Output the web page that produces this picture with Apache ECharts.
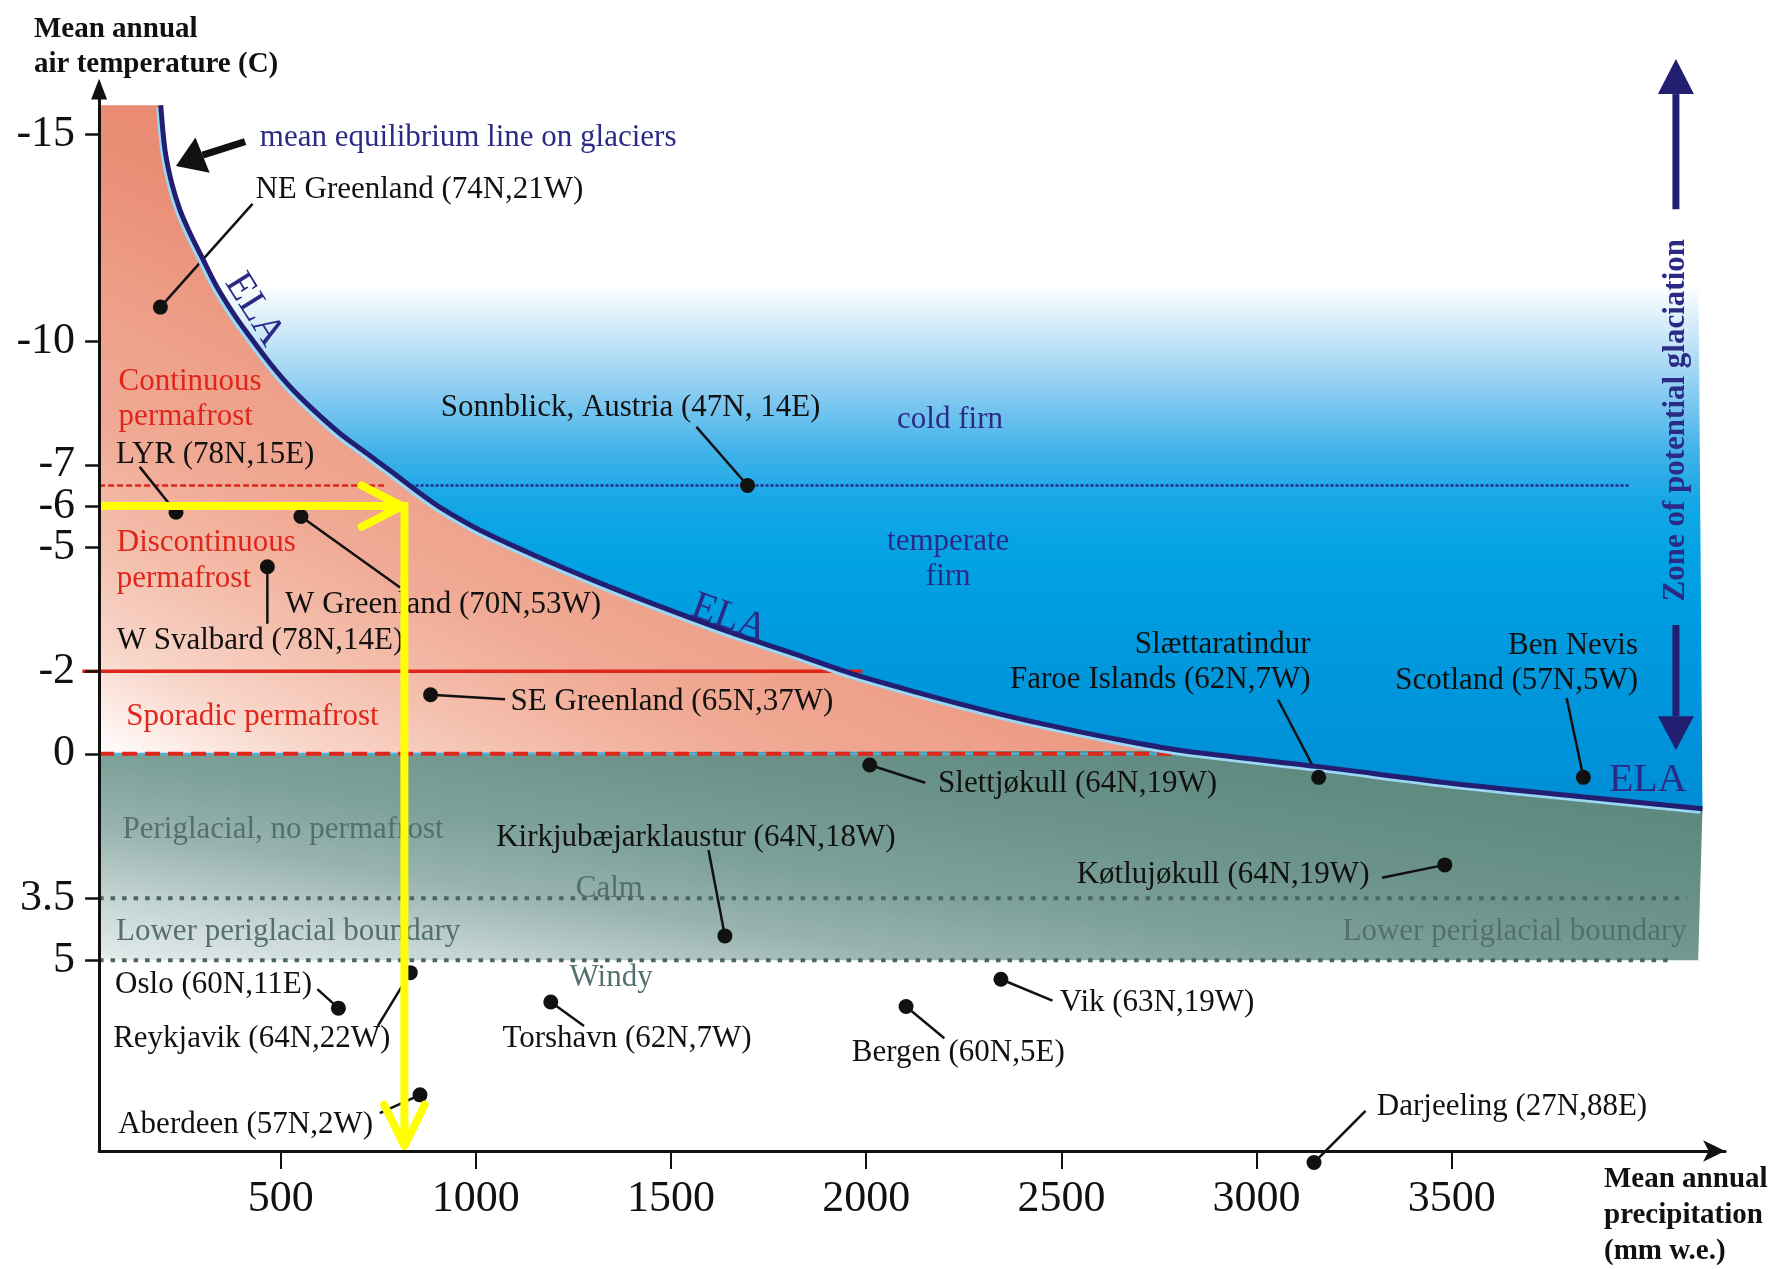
<!DOCTYPE html>
<html><head><meta charset="utf-8">
<script src="https://cdn.jsdelivr.net/npm/echarts@6/dist/echarts.min.js"></script>
<style>html,body{margin:0;padding:0;background:#fff}#c{width:1787px;height:1269px}</style>
</head><body><div id="c"></div>
<script>
// ---------------- data ----------------
const X_TICKS = [500, 1000, 1500, 2000, 2500, 3000, 3500];
const Y_TICKS = [-15, -10, -7, -6, -5, -2, 0, 3.5, 5];

// equilibrium line (ELA): precipitation (mm w.e.) and mean annual air temperature (C)
const ELA_PRECIP = [192.9, 203.9, 221.1, 242.3, 267.9, 302.0, 336.3, 378.8, 421.6, 472.8, 524.1, 583.8, 652.0, 720.5, 788.7, 857.1, 911.6, 1009.7, 1156.8, 1320.2, 1483.4, 1646.8, 1810.2, 1973.6, 2136.8, 2300.2, 2463.6, 2627.0, 2806.6, 3160, 3497, 3834, 4142];
const ELA_TEMP   = [-15.71, -14.62, -13.82, -13.17, -12.61, -11.96, -11.32, -10.67, -10.10, -9.46, -8.89, -8.33, -7.76, -7.28, -6.80, -6.31, -5.95, -5.42, -4.78, -4.13, -3.53, -2.96, -2.44, -1.91, -1.47, -1.06, -0.70, -0.38, -0.08, 0.31, 0.71, 1.04, 1.33];

// stations
const STATION_NAMES = ['NE Greenland (74N,21W)', 'LYR (78N,15E)', 'W Greenland (70N,53W)', 'W Svalbard (78N,14E)',
  'Sonnblick, Austria (47N, 14E)', 'SE Greenland (65N,37W)', 'Slettjøkull (64N,19W)', 'Slættaratindur\nFaroe Islands (62N,7W)',
  'Ben Nevis\nScotland (57N,5W)', 'Kirkjubæjarklaustur (64N,18W)', 'Køtlujøkull (64N,19W)', 'Oslo (60N,11E)',
  'Reykjavik (64N,22W)', 'Torshavn (62N,7W)', 'Bergen (60N,5E)', 'Vik (63N,19W)', 'Aberdeen (57N,2W)', 'Darjeeling (27N,88E)'];
const STATION_PRECIP = [192, 232, 552, 466, 1696, 884, 2009, 3159, 3837, 1638, 3482, 648, 832, 1192, 2102, 2345, 857, 3147];
const STATION_TEMP   = [-10.82, -5.85, -5.75, -4.53, -6.5, -1.43, 0.27, 0.57, 0.57, 4.41, 2.69, 6.16, 5.30, 6.01, 6.12, 5.46, 8.26, 9.9];

// zone boundaries (C)
const T_CONTINUOUS = -6.5, T_DISCONTINUOUS = -2, T_SPORADIC = 0, T_CALM = 3.5, T_WINDY = 5;
// example read-off (yellow arrow)
const EXAMPLE_TEMP = -6, EXAMPLE_PRECIP = 817;

// ---------------- layout (annotation anchors, in axis units) ----------------
const X_MIN = 35, X_MAX = 4200, Y_MIN = -16, Y_MAX = 9.62;
const ZONE_RIGHT = 4131, BLUE_TOP = -12.61;
const LEADER_END = [[428,-13.32],[139,-6.95],[806,-4.03],[466,-3.15],[1565,-7.92],[1075,-1.32],[2151,0.70],[3055,-1.31],
  [3794,-1.35],[1596,2.33],[3321,3.0],[594,5.70],[749,6.59],[1277,6.59],[2200,6.89],[2477,5.98],[754,8.70],[3279,8.65]];
const LABEL_ANCHOR = [[435.5,-13.66,'left'],[78.4,-7.25,'left'],[511.5,-3.61,'left'],[80,-2.73,'left'],[910,-8.37,'left'],
  [1089,-1.26,'left'],[2184,0.73,'left'],[3138,-2.21,'right'],[3977,-2.19,'right'],[1052,2.04,'left'],[3289,2.93,'right'],
  [76,5.60,'left'],[71,6.91,'left'],[1068,6.91,'left'],[1963,7.25,'left'],[2496,6.03,'left'],[84,8.99,'left'],[3308,8.55,'left']];

const FONT = "'Liberation Serif','Times New Roman',serif";
const NAVY = '#221E72', NAVY_TXT = '#2B2A86', RED = '#E0251B', GREY_TXT = '#54706E', GREY_LINE = '#4A6662';

function seg(api, pts, style) {
  return { type: 'polyline', shape: { points: pts.map(p => api.coord(p)) }, style: Object.assign({ fill: 'none' }, style) };
}
function head(tip, base, width) {
  const dx = tip[0] - base[0], dy = tip[1] - base[1], L = Math.hypot(dx, dy) || 1;
  const nx = -dy / L * width / 2, ny = dx / L * width / 2;
  return [tip, [base[0] + nx, base[1] + ny], [base[0] - nx, base[1] - ny]];
}
function txt(api, p, text, o) {
  const c = api.coord(p);
  const align = o.align || 'left';
  return { type: 'text', x: c[0], y: c[1], rotation: o.rot || 0,
    style: { text: text, x: 0, y: 0, fill: o.color || '#111',
      font: (o.weight || 'normal') + ' ' + (o.size || 31) + 'px ' + FONT,
      align: align, textAlign: align, verticalAlign: 'middle', textVerticalAlign: 'middle',
      lineHeight: o.lh || Math.round((o.size || 31) * 1.15) } };
}
const ELA = ELA_PRECIP.map((x, i) => [x, ELA_TEMP[i]]);
const iZero = ELA.findIndex(p => p[1] > 0) - 1;
const iBlue = ELA.findIndex(p => p[1] >= BLUE_TOP);

function renderRegions(params, api) {
  const P = pts => pts.map(p => api.coord(p));
  const blue = P(ELA.slice(iBlue).concat([[ZONE_RIGHT, ELA[iBlue][1]]]));
  const salmon = P([[X_MIN, ELA_TEMP[0]]].concat(ELA.slice(0, iZero + 1), [[X_MIN, T_SPORADIC]]));
  const teal = P([[X_MIN, T_SPORADIC]].concat(ELA.slice(iZero), [[ZONE_RIGHT, T_WINDY], [X_MIN, T_WINDY]]));
  return { type: 'group', children: [
    { type: 'polygon', shape: { points: blue }, style: { fill: { type: 'linear', x: 0, y: 0, x2: 0, y2: 1, colorStops: [
      { offset: 0, color: '#FFFFFF' }, { offset: 0.09, color: '#FFFFFF' }, { offset: 0.195, color: '#BFE2F7' },
      { offset: 0.29, color: '#80C8F0' }, { offset: 0.377, color: '#42B3EA' }, { offset: 0.464, color: '#16A7E6' },
      { offset: 0.57, color: '#01A2E3' }, { offset: 0.724, color: '#0099DE' }, { offset: 1, color: '#008ED6' }] } } },
    { type: 'polygon', shape: { points: salmon }, style: { fill: { type: 'linear', x: 0, y: 1, x2: 0.2955, y2: 0.006, colorStops: [
      { offset: 0, color: '#FFFFFF' }, { offset: 0.04, color: '#FDF2EE' }, { offset: 0.1375, color: '#F8D6CA' },
      { offset: 0.2625, color: '#F4C0AE' }, { offset: 0.41, color: '#F0AA95' }, { offset: 0.56, color: '#EEA08A' },
      { offset: 0.75, color: '#EA8E76' }, { offset: 1, color: '#E8846C' }] } } },
    { type: 'polygon', shape: { points: teal }, style: { fill: { type: 'linear', x: 0, y: 1, x2: 0.0448, y2: -1.15, colorStops: [
      { offset: 0, color: '#F2F6F6' }, { offset: 0.017, color: '#E0E8E8' }, { offset: 0.137, color: '#C5D5D3' },
      { offset: 0.29, color: '#98B3AF' }, { offset: 0.44, color: '#7CA199' }, { offset: 0.65, color: '#6A9288' },
      { offset: 1, color: '#55837A' }] } } }
  ] };
}

function renderLines(params, api) {
  const ch = [];
  ch.push(seg(api, [[X_MIN, T_SPORADIC], [2800, T_SPORADIC]], { stroke: '#3FB7EC', lineWidth: 2 }));
  ch.push(seg(api, [[X_MIN, T_SPORADIC], [2800, T_SPORADIC]], { stroke: RED, lineWidth: 4, lineDash: [15, 8] }));
  ch.push(seg(api, [[X_MIN, T_CONTINUOUS], [770, T_CONTINUOUS]], { stroke: RED, lineWidth: 2.5, lineDash: [6, 3] }));
  ch.push(seg(api, [[820, T_CONTINUOUS], [3957, T_CONTINUOUS]], { stroke: '#2A2A8A', lineWidth: 2.5, lineDash: [3, 2] }));
  ch.push(seg(api, [[-8, T_DISCONTINUOUS], [1990, T_DISCONTINUOUS]], { stroke: RED, lineWidth: 3.5 }));
  ch.push(seg(api, [[X_MIN, T_CALM], [4102, T_CALM]], { stroke: GREY_LINE, lineWidth: 4, lineDash: [4.5, 7] }));
  ch.push(seg(api, [[X_MIN, T_WINDY], [4059, T_WINDY]], { stroke: GREY_LINE, lineWidth: 4, lineDash: [4.5, 7] }));
  STATION_PRECIP.forEach((x, i) => {
    ch.push(seg(api, [[x, STATION_TEMP[i]], LEADER_END[i]], { stroke: '#111', lineWidth: 2.5 }));
  });
  // black arrow to the equilibrium line
  const aTail = api.coord([409, -14.83]), aBase = api.coord([300, -14.5]), aTip = api.coord([231.8, -14.24]);
  ch.push({ type: 'polyline', shape: { points: [aTail, aBase] }, style: { stroke: '#111', lineWidth: 7, fill: 'none' } });
  ch.push({ type: 'polygon', shape: { points: head(aTip, aBase, 38) }, style: { fill: '#111' } });
  // zone of potential glaciation arrows
  const up0 = api.coord([4074, -13.19]), upB = api.coord([4074, -15.98]), upT = api.coord([4074, -16.83]);
  const dn0 = api.coord([4074, -3.12]), dnB = api.coord([4074, -0.91]), dnT = api.coord([4074, -0.09]);
  ch.push({ type: 'polyline', shape: { points: [up0, upB] }, style: { stroke: NAVY, lineWidth: 7, fill: 'none' } });
  ch.push({ type: 'polygon', shape: { points: head(upT, upB, 36) }, style: { fill: NAVY } });
  ch.push({ type: 'polyline', shape: { points: [dn0, dnB] }, style: { stroke: NAVY, lineWidth: 7, fill: 'none' } });
  ch.push({ type: 'polygon', shape: { points: head(dnT, dnB, 36) }, style: { fill: NAVY } });
  // y axis arrow head
  ch.push({ type: 'polygon', shape: { points: head(api.coord([X_MIN, -16.35]), api.coord([X_MIN, -15.85]), 16) }, style: { fill: '#111' } });
  return { type: 'group', children: ch };
}

function renderTexts(params, api) {
  const ch = [];
  STATION_NAMES.forEach((n, i) => {
    const a = LABEL_ANCHOR[i];
    ch.push(txt(api, [a[0], a[1]], n, { align: a[2], lh: 35 }));
  });
  ch.push(txt(api, [446.7, -14.91], 'mean equilibrium line on glaciers', { color: NAVY_TXT }));
  ch.push(txt(api, [85, -8.585], 'Continuous\npermafrost', { color: RED, lh: 35 }));
  ch.push(txt(api, [80.2, -4.675], 'Discontinuous\npermafrost', { color: RED, lh: 36 }));
  ch.push(txt(api, [104.8, -0.9], 'Sporadic permafrost', { color: RED }));
  ch.push(txt(api, [2079, -8.1], 'cold firn', { color: NAVY_TXT }));
  ch.push(txt(api, [2210, -4.71], 'temperate\nfirn', { color: NAVY_TXT, align: 'center', lh: 35 }));
  ch.push(txt(api, [95, 1.83], 'Periglacial, no permafrost', { color: GREY_TXT }));
  ch.push(txt(api, [1256, 3.26], 'Calm', { color: GREY_TXT }));
  ch.push(txt(api, [78.4, 4.31], 'Lower periglacial boundary', { color: GREY_TXT }));
  ch.push(txt(api, [4102, 4.31], 'Lower periglacial boundary', { color: GREY_TXT, align: 'right' }));
  ch.push(txt(api, [1240, 5.43], 'Windy', { color: GREY_TXT }));
  ch.push(txt(api, [432, -10.76], 'ELA', { color: NAVY_TXT, size: 40, align: 'center', rot: -58 * Math.PI / 180 }));
  ch.push(txt(api, [1648.6, -3.28], 'ELA', { color: NAVY_TXT, size: 40, align: 'center', rot: -20 * Math.PI / 180 }));
  ch.push(txt(api, [4002, 0.65], 'ELA', { color: NAVY_TXT, size: 40, align: 'center' }));
  ch.push(txt(api, [4074, -8.08], 'Zone of potential glaciation', { color: NAVY_TXT, size: 31, weight: 'bold', align: 'center', rot: Math.PI / 2 }));
  return { type: 'group', children: ch };
}

function renderYellow(params, api) {
  const Y = { stroke: '#FFFF00', lineWidth: 8, fill: 'none', lineJoin: 'miter' };
  return { type: 'group', children: [
    seg(api, [[X_MIN, EXAMPLE_TEMP], [EXAMPLE_PRECIP, EXAMPLE_TEMP], [EXAMPLE_PRECIP, 9.45]], Y),
    seg(api, [[707.5, EXAMPLE_TEMP - 0.5], [811, EXAMPLE_TEMP], [707.5, EXAMPLE_TEMP + 0.5]], Object.assign({}, Y, { lineCap: 'round', lineJoin: 'round' })),
    seg(api, [[765, 8.5], [EXAMPLE_PRECIP, 9.5], [869, 8.5]], Object.assign({}, Y, { lineCap: 'round', lineJoin: 'round' }))
  ] };
}

const chart = echarts.init(document.getElementById('c'), null, { renderer: 'canvas', width: 1787, height: 1269 });
chart.setOption({
  animation: false,
  backgroundColor: '#ffffff',
  grid: { left: 99.1, right: 61.9, top: 93.26, bottom: 118, containLabel: false, outerBoundsMode: 'none' },
  xAxis: {
    type: 'value', min: X_MIN, max: X_MAX, z: 10,
    splitLine: { show: false },
    axisLine: { show: true, onZero: false, symbol: ['none', 'arrow'], symbolSize: [16, 22], lineStyle: { color: '#111', width: 3 } },
    axisTick: { show: true, customValues: X_TICKS, length: 18, lineStyle: { color: '#111', width: 2 } },
    axisLabel: { customValues: X_TICKS, fontSize: 44, fontFamily: FONT, color: '#111', margin: 26, formatter: v => String(v) }
  },
  yAxis: {
    type: 'value', min: Y_MIN, max: Y_MAX, inverse: true, z: 10,
    splitLine: { show: false },
    axisLine: { show: true, onZero: false, lineStyle: { color: '#111', width: 3 } },
    axisTick: { show: true, customValues: Y_TICKS, length: 14, lineStyle: { color: '#111', width: 2.5 } },
    axisLabel: { customValues: Y_TICKS, fontSize: 44, fontFamily: FONT, color: '#111', margin: 24, formatter: v => String(v) }
  },
  graphic: [
    { type: 'text', left: 34, top: 12, style: { text: 'Mean annual\nair temperature (C)', font: 'bold 29px ' + FONT, fill: '#111', lineHeight: 35 } },
    { type: 'text', left: 1604, top: 1162, style: { text: 'Mean annual\nprecipitation\n(mm w.e.)', font: 'bold 29px ' + FONT, fill: '#111', lineHeight: 36 } }
  ],
  series: [
    { type: 'custom', z: 1, silent: true, data: [[X_MIN, 0]], renderItem: renderRegions },
    { type: 'custom', z: 3, silent: true, data: [[X_MIN, 0]], renderItem: renderLines },
    { type: 'line', z: 4, silent: true, data: ELA, symbol: 'none', smooth: 0.3, clip: false,
      lineStyle: { color: NAVY, width: 5, shadowColor: '#9AD8F5', shadowOffsetX: -2, shadowOffsetY: 2.5, shadowBlur: 0 } },
    { type: 'scatter', z: 5, silent: true, clip: false, symbolSize: 15, itemStyle: { color: '#111', opacity: 1 },
      data: STATION_PRECIP.map((x, i) => [x, STATION_TEMP[i]]) },
    { type: 'custom', z: 7, silent: true, data: [[X_MIN, 0]], renderItem: renderTexts },
    { type: 'custom', z: 8, silent: true, data: [[X_MIN, 0]], renderItem: renderYellow }
  ]
});
</script></body></html>
